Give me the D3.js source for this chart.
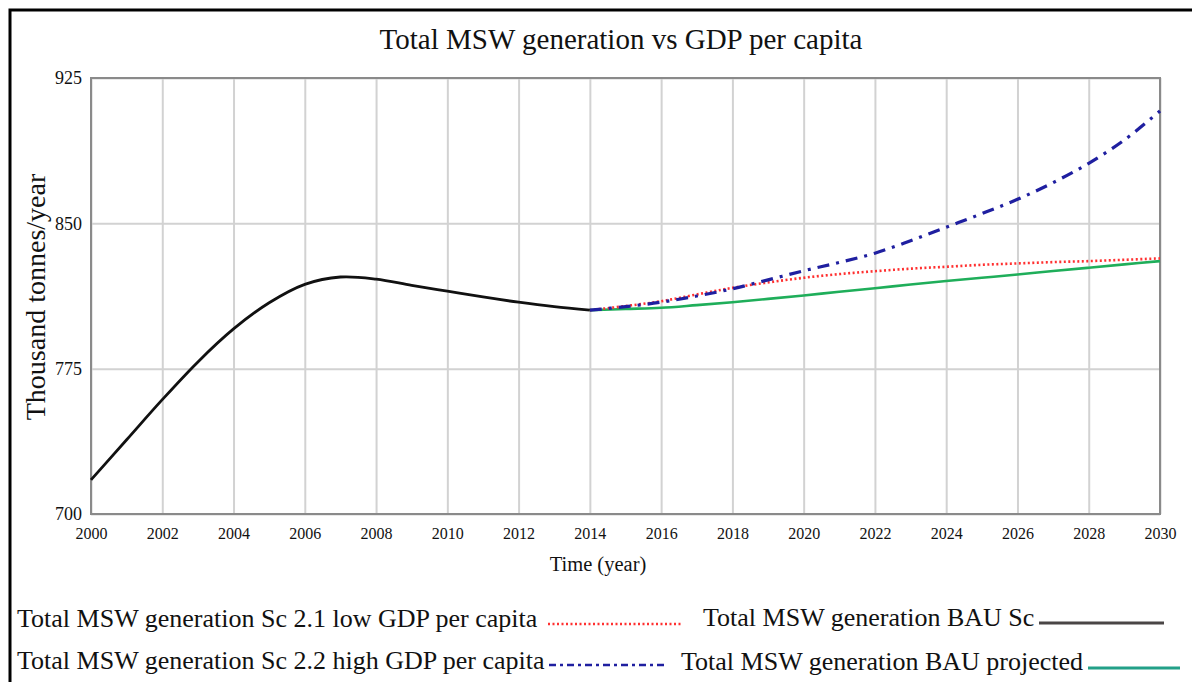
<!DOCTYPE html>
<html>
<head>
<meta charset="utf-8">
<script src="https://cdn.jsdelivr.net/npm/d3@7"></script>
<style>
  body { margin: 0; background: #fff; }
  svg text { font-family: "Liberation Serif", "Times New Roman", serif; fill: #111; }
</style>
</head>
<body>
<svg id="chart" width="1192" height="682"></svg>
<script>
// historical years and BAU scenario (thousand tonnes/year)
var histYears = [2000, 2001, 2002, 2003, 2004, 2005, 2006, 2007, 2008, 2009, 2010, 2011, 2012, 2013, 2014];
var bauSc = [717.6, 738.3, 759, 778.5, 795.5, 809, 818.5, 822.3, 821.2, 818, 815, 812, 809.3, 807, 805.2];

// projection years 2014-2030
var projYears = [2014, 2015, 2016, 2017, 2018, 2019, 2020, 2021, 2022, 2023, 2024, 2025, 2026, 2027, 2028, 2029, 2030];
var bauProjected = [805.2, 805.8, 806.4, 807.8, 809.3, 811, 812.8, 814.7, 816.5, 818.4, 820.2, 821.9, 823.6, 825.4, 827.1, 828.8, 830.5];
var lowGdp = [805.2, 807.3, 809.8, 813.3, 816.7, 819.5, 821.9, 823.8, 825.3, 826.6, 827.6, 828.6, 829.3, 830, 830.5, 831.2, 831.9];
var highGdp = [805.2, 807, 809.3, 812.5, 816.2, 820.8, 825.5, 829.8, 834.6, 841, 848, 855, 862.4, 871, 881, 893, 908];

var yTicks = [700, 775, 850, 925];
var xTicks = [2000, 2002, 2004, 2006, 2008, 2010, 2012, 2014, 2016, 2018, 2020, 2022, 2024, 2026, 2028, 2030];

var svg = d3.select("#chart");
var margin = {left: 91, top: 78, right: 1160, bottom: 514};
var width = margin.right - margin.left;
var height = margin.bottom - margin.top;

// outer border (only top and left visible in the picture)
svg.append("rect")
  .attr("x", 10).attr("y", 10)
  .attr("width", 1200).attr("height", 700)
  .attr("fill", "none")
  .attr("stroke", "#000")
  .attr("stroke-width", 3);

svg.append("text")
  .attr("x", 621).attr("y", 49)
  .attr("text-anchor", "middle")
  .style("font-size", "29px")
  .text("Total MSW generation vs GDP per capita");

var x = d3.scaleLinear().domain([2000, 2030]).range([0, width]);
var y = d3.scaleLinear().domain([700, 925]).range([height, 0]);

var g = svg.append("g").attr("transform", "translate(" + margin.left + "," + margin.top + ")");

// grid
g.append("g")
  .attr("class", "grid")
  .attr("transform", "translate(0," + height + ")")
  .call(d3.axisBottom(x).tickValues(xTicks).tickSize(-height).tickFormat(""))
  .call(function(s) { s.select(".domain").remove(); })
  .selectAll("line").attr("stroke", "#d2d2d2").attr("stroke-width", 2);

g.append("g")
  .attr("class", "grid")
  .call(d3.axisLeft(y).tickValues(yTicks).tickSize(-width).tickFormat(""))
  .call(function(s) { s.select(".domain").remove(); })
  .selectAll("line").attr("stroke", "#d2d2d2").attr("stroke-width", 2);

// frame
g.append("rect")
  .attr("width", width).attr("height", height)
  .attr("fill", "none")
  .attr("stroke", "#8a8a8a")
  .attr("stroke-width", 2);

// axis labels
var yAxis = g.append("g")
  .call(d3.axisLeft(y).tickValues(yTicks).tickSize(0).tickPadding(9).tickFormat(d3.format("d")));
yAxis.select(".domain").remove();
yAxis.selectAll("text").style("font-size", "18px").attr("fill", "#222");

var xAxis = g.append("g")
  .attr("transform", "translate(0," + height + ")")
  .call(d3.axisBottom(x).tickValues(xTicks).tickSize(0).tickPadding(14).tickFormat(d3.format("d")));
xAxis.select(".domain").remove();
xAxis.selectAll("text").style("font-size", "16px").attr("fill", "#222");

svg.append("text")
  .attr("x", 598).attr("y", 571)
  .attr("text-anchor", "middle")
  .style("font-size", "20.5px")
  .text("Time (year)");

svg.append("text")
  .attr("transform", "translate(45,297) rotate(-90)")
  .attr("text-anchor", "middle")
  .style("font-size", "28px")
  .text("Thousand tonnes/year");

// lines
var line = d3.line()
  .x(function(d) { return x(d[0]); })
  .y(function(d) { return y(d[1]); })
  .curve(d3.curveCatmullRom.alpha(0.5));

function pairs(xs, ys) { return xs.map(function(v, i) { return [v, ys[i]]; }); }

g.append("path")
  .datum(pairs(projYears, bauProjected))
  .attr("d", line)
  .attr("fill", "none")
  .attr("stroke", "#1fae5a")
  .attr("stroke-width", 2.6);

g.append("path")
  .datum(pairs(projYears, lowGdp))
  .attr("d", line)
  .attr("fill", "none")
  .attr("stroke", "#ff3030")
  .attr("stroke-width", 2.6)
  .attr("stroke-dasharray", "2,2.5");

g.append("path")
  .datum(pairs(projYears, highGdp))
  .attr("d", line)
  .attr("fill", "none")
  .attr("stroke", "#1f1fa0")
  .attr("stroke-width", 3.2)
  .attr("stroke-dasharray", "12,7,3,7");

g.append("path")
  .datum(pairs(histYears, bauSc))
  .attr("d", line)
  .attr("fill", "none")
  .attr("stroke", "#111")
  .attr("stroke-width", 2.8);

// legend
var legendItems = [
  {label: "Total MSW generation Sc 2.1 low GDP per capita", tx: 17, ty: 627, x1: 548, x2: 683, ly: 624, color: "#ff3030", dash: "2,2.5", w: 2.4},
  {label: "Total MSW generation Sc 2.2 high GDP per capita", tx: 17, ty: 669, x1: 549, x2: 668, ly: 665, color: "#1f1fa0", dash: "7,4,3,4", w: 2.6},
  {label: "Total MSW generation BAU Sc", tx: 703, ty: 626, x1: 1039, x2: 1164, ly: 623, color: "#4a4646", dash: null, w: 3},
  {label: "Total MSW generation BAU projected", tx: 681, ty: 670, x1: 1088, x2: 1180, ly: 668, color: "#23a088", dash: null, w: 3}
];

var legend = svg.append("g").attr("class", "legend");
legendItems.forEach(function(d) {
  legend.append("text")
    .attr("x", d.tx).attr("y", d.ty)
    .style("font-size", "26px")
    .text(d.label);
  legend.append("line")
    .attr("x1", d.x1).attr("x2", d.x2)
    .attr("y1", d.ly).attr("y2", d.ly)
    .attr("stroke", d.color)
    .attr("stroke-width", d.w)
    .attr("stroke-dasharray", d.dash);
});
</script>
</body>
</html>
